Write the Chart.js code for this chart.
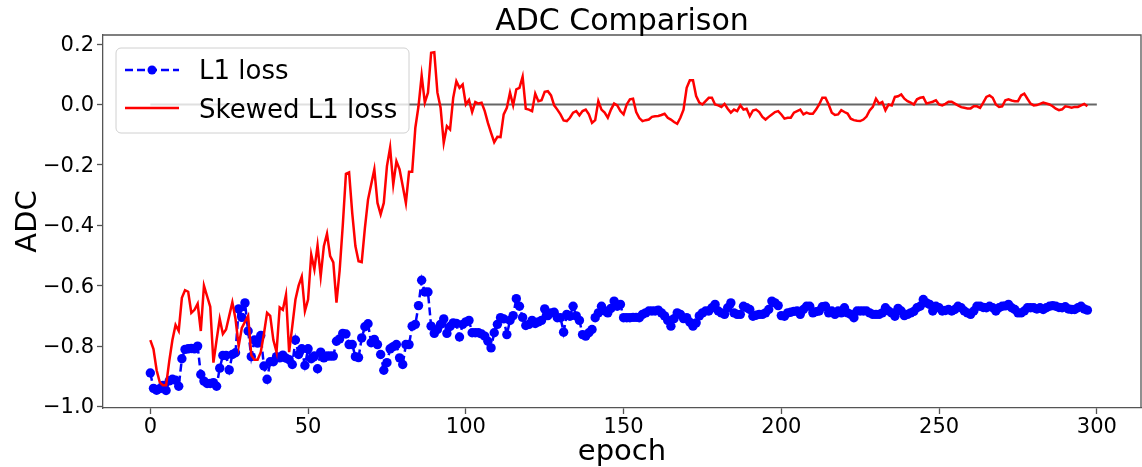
<!DOCTYPE html>
<html><head><meta charset="utf-8">
<script src="https://cdn.jsdelivr.net/npm/chart.js@4.4.0/dist/chart.umd.min.js"></script>
<style>html,body{margin:0;padding:0;background:#fff;}canvas{display:block;}</style>
</head><body>
<canvas id="c" width="1142" height="467"></canvas>
<script>
const epochs = Array.from({length: 298}, (_, i) => i);

const adcL1 = [
-0.889,-0.94,-0.946,-0.941,-0.93,-0.947,-0.915,-0.91,-0.913,-0.933,
-0.842,-0.811,-0.809,-0.808,-0.809,-0.80,-0.894,-0.916,-0.924,-0.924,
-0.921,-0.933,-0.873,-0.831,-0.831,-0.879,-0.828,-0.822,-0.677,-0.705,
-0.657,-0.75,-0.835,-0.78,-0.79,-0.765,-0.866,-0.91,-0.852,-0.852,
-0.835,-0.839,-0.83,-0.84,-0.845,-0.861,-0.78,-0.828,-0.809,-0.864,
-0.809,-0.842,-0.833,-0.875,-0.82,-0.839,-0.833,-0.833,-0.833,-0.784,
-0.776,-0.758,-0.76,-0.795,-0.795,-0.835,-0.838,-0.773,-0.736,-0.726,
-0.789,-0.778,-0.795,-0.828,-0.88,-0.855,-0.809,-0.802,-0.795,-0.839,
-0.861,-0.795,-0.795,-0.734,-0.728,-0.666,-0.582,-0.621,-0.621,-0.734,
-0.758,-0.745,-0.728,-0.71,-0.758,-0.735,-0.723,-0.725,-0.77,-0.728,
-0.72,-0.715,-0.756,-0.756,-0.756,-0.76,-0.767,-0.784,-0.806,-0.756,
-0.728,-0.706,-0.71,-0.762,-0.715,-0.699,-0.643,-0.668,-0.705,-0.732,
-0.728,-0.715,-0.725,-0.72,-0.715,-0.677,-0.699,-0.69,-0.688,-0.706,
-0.706,-0.754,-0.695,-0.701,-0.668,-0.70,-0.715,-0.762,-0.767,-0.756,
-0.745,-0.706,-0.69,-0.668,-0.684,-0.69,-0.675,-0.651,-0.668,-0.662,
-0.706,-0.706,-0.706,-0.705,-0.705,-0.706,-0.695,-0.69,-0.684,-0.684,
-0.684,-0.681,-0.69,-0.70,-0.715,-0.734,-0.709,-0.69,-0.695,-0.709,
-0.706,-0.721,-0.734,-0.723,-0.70,-0.69,-0.684,-0.684,-0.673,-0.662,
-0.684,-0.69,-0.695,-0.673,-0.657,-0.69,-0.695,-0.695,-0.668,-0.673,
-0.679,-0.701,-0.698,-0.695,-0.695,-0.69,-0.679,-0.651,-0.657,-0.666,
-0.699,-0.701,-0.69,-0.688,-0.685,-0.684,-0.695,-0.679,-0.668,-0.668,
-0.69,-0.686,-0.684,-0.67,-0.668,-0.69,-0.684,-0.695,-0.684,-0.69,
-0.673,-0.69,-0.695,-0.706,-0.684,-0.684,-0.684,-0.684,-0.69,-0.695,
-0.695,-0.695,-0.69,-0.673,-0.684,-0.69,-0.701,-0.675,-0.684,-0.699,
-0.695,-0.69,-0.685,-0.673,-0.668,-0.646,-0.657,-0.662,-0.684,-0.668,
-0.673,-0.684,-0.682,-0.679,-0.684,-0.679,-0.668,-0.673,-0.684,-0.69,
-0.695,-0.684,-0.668,-0.668,-0.672,-0.673,-0.668,-0.673,-0.684,-0.673,
-0.668,-0.667,-0.662,-0.673,-0.679,-0.69,-0.69,-0.684,-0.673,-0.673,
-0.673,-0.677,-0.673,-0.679,-0.673,-0.668,-0.666,-0.668,-0.672,-0.673,
-0.67,-0.677,-0.679,-0.679,-0.673,-0.668,-0.677,-0.681
];

const adcSkewed = [
-0.78,-0.81,-0.88,-0.92,-0.93,-0.93,-0.85,-0.78,-0.73,-0.75,
-0.64,-0.615,-0.62,-0.69,-0.68,-0.66,-0.75,-0.60,-0.635,-0.67,
-0.855,-0.78,-0.71,-0.76,-0.745,-0.70,-0.655,-0.71,-0.80,-0.74,
-0.72,-0.70,-0.83,-0.845,-0.845,-0.82,-0.76,-0.69,-0.70,-0.78,
-0.82,-0.672,-0.68,-0.63,-0.82,-0.734,-0.646,-0.60,-0.57,-0.684,
-0.646,-0.497,-0.546,-0.467,-0.569,-0.469,-0.428,-0.502,-0.523,-0.656,
-0.55,-0.40,-0.23,-0.225,-0.36,-0.469,-0.519,-0.522,-0.41,-0.315,
-0.265,-0.215,-0.326,-0.364,-0.326,-0.204,-0.143,-0.265,-0.188,-0.215,
-0.27,-0.326,-0.223,-0.223,-0.077,-0.006,0.096,0.006,0.039,0.171,
0.173,0.039,-0.011,-0.127,-0.072,-0.083,0.022,0.077,0.055,0.066,
0.0,0.015,-0.025,0.008,0.003,0.006,-0.022,-0.061,-0.094,-0.125,
-0.107,-0.108,-0.033,-0.011,0.039,-0.003,0.05,0.055,0.092,-0.014,
-0.017,-0.022,0.036,0.011,0.014,0.042,0.044,0.03,-0.003,-0.017,
-0.033,-0.053,-0.055,-0.044,-0.027,-0.022,-0.036,-0.022,-0.017,-0.033,
-0.061,-0.052,0.011,-0.017,-0.027,-0.044,-0.017,0.003,-0.003,-0.022,
-0.033,0.0,0.017,0.019,-0.025,-0.045,-0.055,-0.052,-0.05,-0.041,
-0.039,-0.038,-0.035,-0.031,-0.044,-0.05,-0.058,-0.064,-0.044,-0.017,
0.055,0.08,0.08,0.028,0.006,0.0,0.011,0.022,0.022,0.0,
-0.003,-0.008,0.002,-0.014,-0.027,-0.017,-0.022,-0.003,-0.017,-0.014,
-0.039,-0.02,-0.017,-0.025,-0.041,-0.05,-0.041,-0.033,-0.025,-0.022,
-0.033,-0.047,-0.044,-0.044,-0.027,-0.022,-0.017,-0.033,-0.027,-0.031,
-0.031,-0.017,0.0,0.022,0.022,0.0,-0.027,-0.035,-0.033,-0.019,
-0.025,-0.03,-0.047,-0.052,-0.054,-0.055,-0.05,-0.04,-0.02,-0.008,
0.019,0.003,0.008,-0.019,0.0,-0.003,0.025,0.027,0.033,0.019,
0.011,0.006,0.0,0.017,0.022,0.024,0.003,0.006,0.009,0.014,
0.0,-0.003,0.002,0.009,0.009,0.003,-0.003,-0.009,-0.011,-0.013,
-0.013,-0.006,-0.006,-0.011,0.006,0.025,0.03,0.022,0.0,-0.008,
-0.006,0.014,0.017,0.013,0.011,0.011,0.03,0.036,0.019,0.003,
-0.003,-0.002,0.002,0.006,0.003,0.0,-0.006,-0.014,-0.019,-0.016,
-0.006,-0.008,-0.011,-0.008,-0.008,-0.003,0.002,-0.006
];

const refLineX = [0, 300];
const refLineY = [0, 0];
const xTicks = [0, 50, 100, 150, 200, 250, 300];
const yTicks = [-1.0, -0.8, -0.6, -0.4, -0.2, 0.0, 0.2];
const seriesNames = ['L1 loss', 'Skewed L1 loss'];
const chartTitle = 'ADC Comparison';

const FONT = "'DejaVu Sans', sans-serif";
const SPINE = '#555';

const decor = {
  id: 'decor',
  afterDraw(chart) {
    const c = chart.ctx, a = chart.chartArea;
    c.save();
    c.strokeStyle = SPINE; c.lineWidth = 1.3;
    c.beginPath();
    c.moveTo(a.left, a.top); c.lineTo(a.right, a.top); c.lineTo(a.right, a.bottom);
    c.stroke();
    c.fillStyle = '#000';
    c.font = '30px ' + FONT;
    c.textAlign = 'center'; c.textBaseline = 'alphabetic';
    c.fillText(chartTitle, (a.left + a.right) / 2, 30);
    const lx = a.left + 13, ly = a.top + 13, lw = 293, lh = 85, r = 5;
    c.beginPath();
    c.moveTo(lx + r, ly); c.lineTo(lx + lw - r, ly); c.arcTo(lx + lw, ly, lx + lw, ly + r, r);
    c.lineTo(lx + lw, ly + lh - r); c.arcTo(lx + lw, ly + lh, lx + lw - r, ly + lh, r);
    c.lineTo(lx + r, ly + lh); c.arcTo(lx, ly + lh, lx, ly + lh - r, r);
    c.lineTo(lx, ly + r); c.arcTo(lx, ly, lx + r, ly, r);
    c.closePath();
    c.fillStyle = 'rgba(255,255,255,0.8)'; c.fill();
    c.strokeStyle = '#d0d0d0'; c.lineWidth = 1; c.stroke();
    const y1 = ly + 22, y2 = ly + 60;
    c.strokeStyle = '#0000ff'; c.lineWidth = 2.5; c.setLineDash([8, 4]);
    c.beginPath(); c.moveTo(lx + 9, y1); c.lineTo(lx + 63, y1); c.stroke();
    c.setLineDash([]);
    c.fillStyle = '#0000ff';
    c.beginPath(); c.arc(lx + 36, y1, 4.5, 0, Math.PI * 2); c.fill();
    c.strokeStyle = '#ff0000'; c.lineWidth = 2.5;
    c.beginPath(); c.moveTo(lx + 9, y2); c.lineTo(lx + 63, y2); c.stroke();
    c.fillStyle = '#000'; c.font = '26px ' + FONT; c.textAlign = 'left';
    c.fillText(seriesNames[0], lx + 83, ly + 31);
    c.fillText(seriesNames[1], lx + 83, ly + 70);
    c.restore();
  }
};

new Chart(document.getElementById('c').getContext('2d'), {
  type: 'line',
  data: {
    labels: epochs,
    datasets: [
      { label: seriesNames[1], data: adcSkewed, borderColor: '#ff0000', borderWidth: 2.5,
        pointRadius: 0, tension: 0, fill: false },
      { label: seriesNames[0], data: adcL1, borderColor: '#0000ff', borderWidth: 2.5,
        borderDash: [8, 4], pointRadius: 4.7, pointBackgroundColor: '#0000ff',
        pointBorderWidth: 0, pointBorderColor: '#0000ff', tension: 0, fill: false },
      { label: 'zero', data: refLineX.map((x, i) => ({x: x, y: refLineY[i]})),
        borderColor: '#666666', borderWidth: 2, pointRadius: 0, fill: false }
    ]
  },
  options: {
    responsive: false, animation: false, devicePixelRatio: 1,
    layout: { autoPadding: false, padding: { left: 0, right: 1, top: 35, bottom: 0 } },
    plugins: { legend: { display: false }, tooltip: { enabled: false }, title: { display: false } },
    scales: {
      x: {
        type: 'linear', min: -15, max: 314,
        afterFit(s) { s.height = 59; },
        afterBuildTicks(s) { s.ticks = xTicks.map(v => ({value: v})); },
        ticks: { color: '#000', font: { family: FONT, size: 21 }, padding: 1, maxRotation: 0,
                 callback: v => String(v) },
        grid: { drawOnChartArea: false, drawTicks: true, tickLength: 6, color: SPINE, tickWidth: 1.3 },
        border: { color: SPINE, width: 1.3 },
        title: { display: true, text: 'epoch', color: '#000',
                 font: { family: FONT, size: 29, lineHeight: 1 }, padding: { top: 0, bottom: 0 } }
      },
      y: {
        type: 'linear', min: -1.005, max: 0.23,
        afterFit(s) { s.width = 103; },
        afterBuildTicks(s) { s.ticks = yTicks.map(v => ({value: v})); },
        ticks: { color: '#000', font: { family: FONT, size: 21 }, padding: 3, labelOffset: 1.5,
                 callback: v => (v < -1e-9 ? '\u2212' : '') + Math.abs(v).toFixed(1) },
        grid: { drawOnChartArea: false, drawTicks: true, tickLength: 6, color: SPINE, tickWidth: 1.3 },
        border: { color: SPINE, width: 1.3 },
        title: { display: true, text: 'ADC', color: '#000',
                 font: { family: FONT, size: 29, lineHeight: 1 }, padding: { top: 14, bottom: 0 } }
      }
    }
  },
  plugins: [decor]
});
</script>
</body></html>
